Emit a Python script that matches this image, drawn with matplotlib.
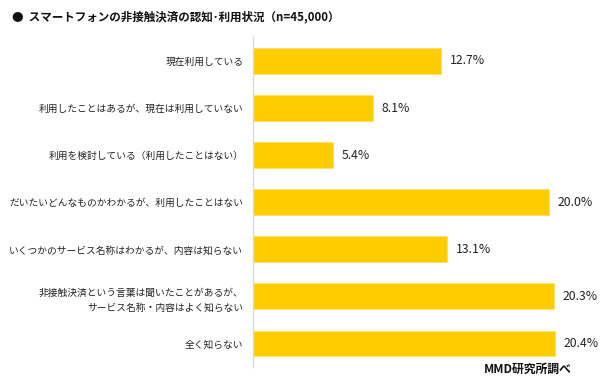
import matplotlib.pyplot as plt

plt.rcParams['font.family'] = ['Noto Sans CJK JP', 'DejaVu Sans']

labels = ['現在利用している',
          '利用したことはあるが、現在は利用していない',
          '利用を検討している（利用したことはない）',
          'だいたいどんなものかわかるが、利用したことはない',
          'いくつかのサービス名称はわかるが、内容は知らない',
          '非接触決済という言葉は聞いたことがあるが、\nサービス名称・内容はよく知らない',
          '全く知らない']
values = [12.7, 8.1, 5.4, 20.0, 13.1, 20.3, 20.4]

fig = plt.figure(figsize=(6, 3.81), dpi=100)
ax = fig.add_axes([0.4217, 0.0367, 0.575, 0.865])

ypos = list(range(len(values)))
ax.barh(ypos, values, height=0.55, color='#FFCC00', edgecolor='#FFE066', linewidth=0.6)
for y, v in zip(ypos, values):
    ax.text(v + 0.6, y, f'{v:.1f}%', va='center', ha='left', fontsize=8.8, color='#222222')

ax.set_ylim(6.5, -0.5)
ax.set_xlim(0, 23.3)
ax.set_yticks(ypos)
ax.set_yticklabels(labels, fontsize=7, color='#222222', linespacing=1.7)
ax.tick_params(axis='y', length=0, pad=7)
ax.set_xticks([])
for s in ['top', 'right', 'bottom']:
    ax.spines[s].set_visible(False)
ax.spines['left'].set_color('#d9d9d9')
ax.spines['left'].set_linewidth(1)

fig.text(0.02, 0.955, '●  スマートフォンの非接触決済の認知･利用状況（n=45,000）',
         fontsize=8.3, fontweight='bold', va='center', ha='left', color='#111111')
fig.text(0.952, 0.03, 'MMD研究所調べ', fontsize=8.5, fontweight='bold',
         va='center', ha='right', color='#111111')

fig.savefig('out.png', dpi=100)
